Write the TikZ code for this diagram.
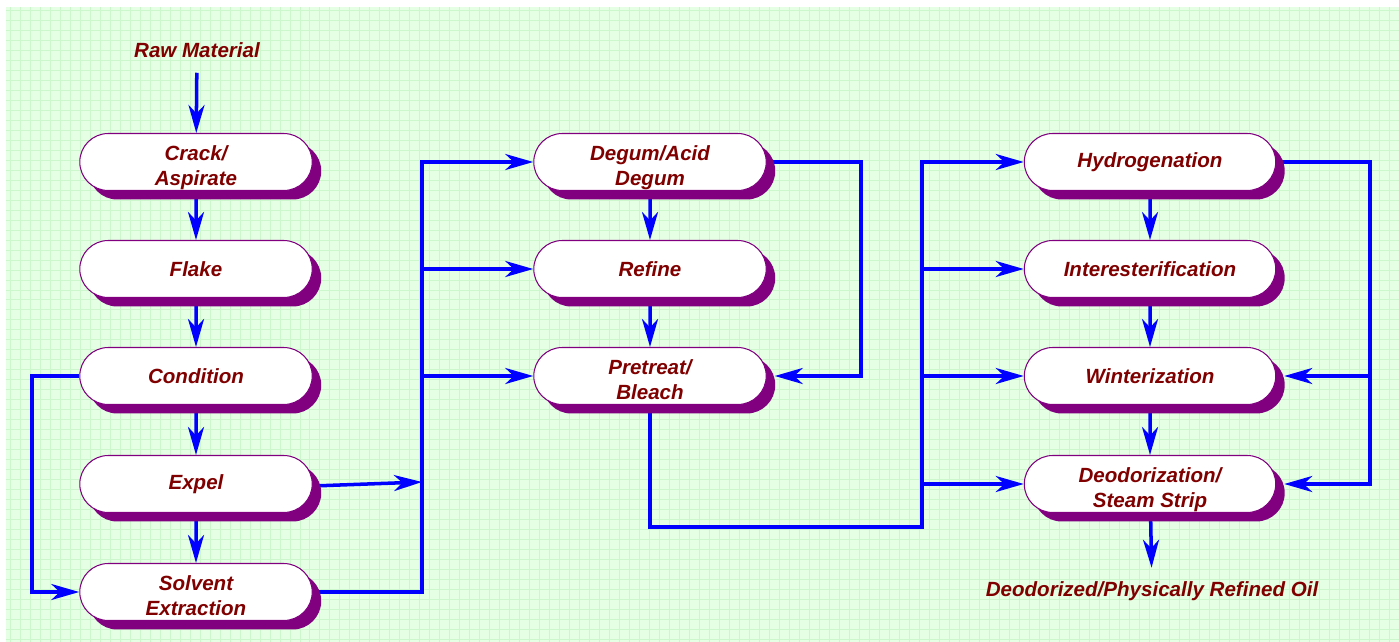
\documentclass[tikz,border=0pt]{standalone}
\usepackage{fontspec}
\setmainfont{Liberation Sans}
\usepackage{xcolor}
\usetikzlibrary{arrows.meta, shapes.misc, shadows}

\definecolor{maroontext}{RGB}{128,0,0}
\definecolor{plum}{RGB}{128,0,128}
\definecolor{paper}{RGB}{228,255,228}
\definecolor{paperline}{RGB}{204,246,204}

\pgfdeclarelayer{paper}
\pgfdeclarelayer{wires}
\pgfsetlayers{paper,wires,main}

\begin{document}
\begin{tikzpicture}[x=0.02cm, y=-0.02cm,
  every node/.style={text=maroontext, font=\bfseries\itshape\fontsize{11.7}{14.2}\selectfont},
  process/.style={rounded rectangle, draw=plum, line width=0.6pt, fill=white,
    minimum width=4.72cm, minimum height=1.14cm, inner sep=1pt, align=center,
    drop shadow={shadow xshift=0.18cm, shadow yshift=-0.18cm, fill=plum, opacity=1}},
  twoline/.style={text height=27pt, text depth=0pt},
  wide/.style={minimum width=5.1cm},
  wire/.style={draw=blue, line width=2pt}]
\useasboundingbox (0,0) rectangle (1399,642);

\begin{pgfonlayer}{paper}
  \fill[paper] (6,7) rectangle (1399,642);
  \draw[paperline, line width=0.5pt, step=0.2cm] (6,7) grid (1399,642);
\end{pgfonlayer}

% preparation
\node (raw) at (197,50) {Raw Material};
\node[process, twoline] (crack) at (196,162) {Crack/\\Aspirate};
\node[process] (flake) at (196,269) {Flake};
\node[process] (cond) at (196,376) {Condition};
\node[process] (expel) at (196,484) {Expel};
\node[process, twoline] (solvent) at (196,592) {Solvent\\Extraction};

% refining
\node[process, twoline] (degum) at (650,162) {Degum/Acid\\Degum};
\node[process] (refine) at (650,269) {Refine};
\node[process, twoline] (bleach) at (650,376) {Pretreat/\\Bleach};

% modification
\node[process, wide] (hydro) at (1150,162) {Hydrogenation};
\node[process, wide] (inter) at (1150,269) {Interesterification};
\node[process, wide] (winter) at (1150,376) {Winterization};
\node[process, wide, twoline] (deodor) at (1150,484) {Deodorization/\\Steam Strip};
\node (oil) at (1152,591) {Deodorized/Physically Refined Oil};

\coordinate (bus1) at (422,592);
\coordinate (bus2) at (922,527);
\coordinate (bus3) at (1370,162);

\begin{pgfonlayer}{wires}
\begin{scope}[>={Stealth[length=0.56cm, width=0.32cm, inset=0.17cm]},
              every edge/.style={wire}]
    \path [->] (raw) edge[shorten <=0.18cm] (crack);
    \path [->] (crack) edge (flake);
    \path [->] (flake) edge (cond);
    \path [->] (cond) edge (expel);
    \path [->] (expel) edge (solvent);
    \path [->] (degum) edge (refine);
    \path [->] (refine) edge (bleach);
    \path [->] (hydro) edge (inter);
    \path [->] (inter) edge (winter);
    \path [->] (winter) edge (deodor);
    \path [->] (deodor) edge[shorten >=0.15cm] (oil);

    \draw[wire, ->] (cond.west) -- ++(-47,0) |- (solvent.west);
    \draw[wire, ->] ([yshift=-0.04cm]expel.east) -- ([yshift=0.04cm]bus1 |- expel.east);
    \draw[wire, ->] (solvent.east) -- (bus1) |- (degum.west);
    \draw[wire, ->] (bus1 |- refine.west) -- (refine.west);
    \draw[wire, ->] (bus1 |- bleach.west) -- (bleach.west);
    \draw[wire, ->] (degum.east) -- ++(94,0) |- ([xshift=0.16cm]bleach.east);

    \draw[wire, ->] (bleach.south) |- (bus2) |- (hydro.west);
    \draw[wire, ->] (bus2 |- inter.west) -- (inter.west);
    \draw[wire, ->] (bus2 |- winter.west) -- (winter.west);
    \draw[wire, ->] (bus2 |- deodor.west) -- (deodor.west);
    \draw[wire, ->] (hydro.east) -- (bus3) |- ([xshift=0.16cm]deodor.east);
    \draw[wire, ->] (bus3 |- winter.east) -- ([xshift=0.16cm]winter.east);
\end{scope}
\end{pgfonlayer}

\end{tikzpicture}
\end{document}
